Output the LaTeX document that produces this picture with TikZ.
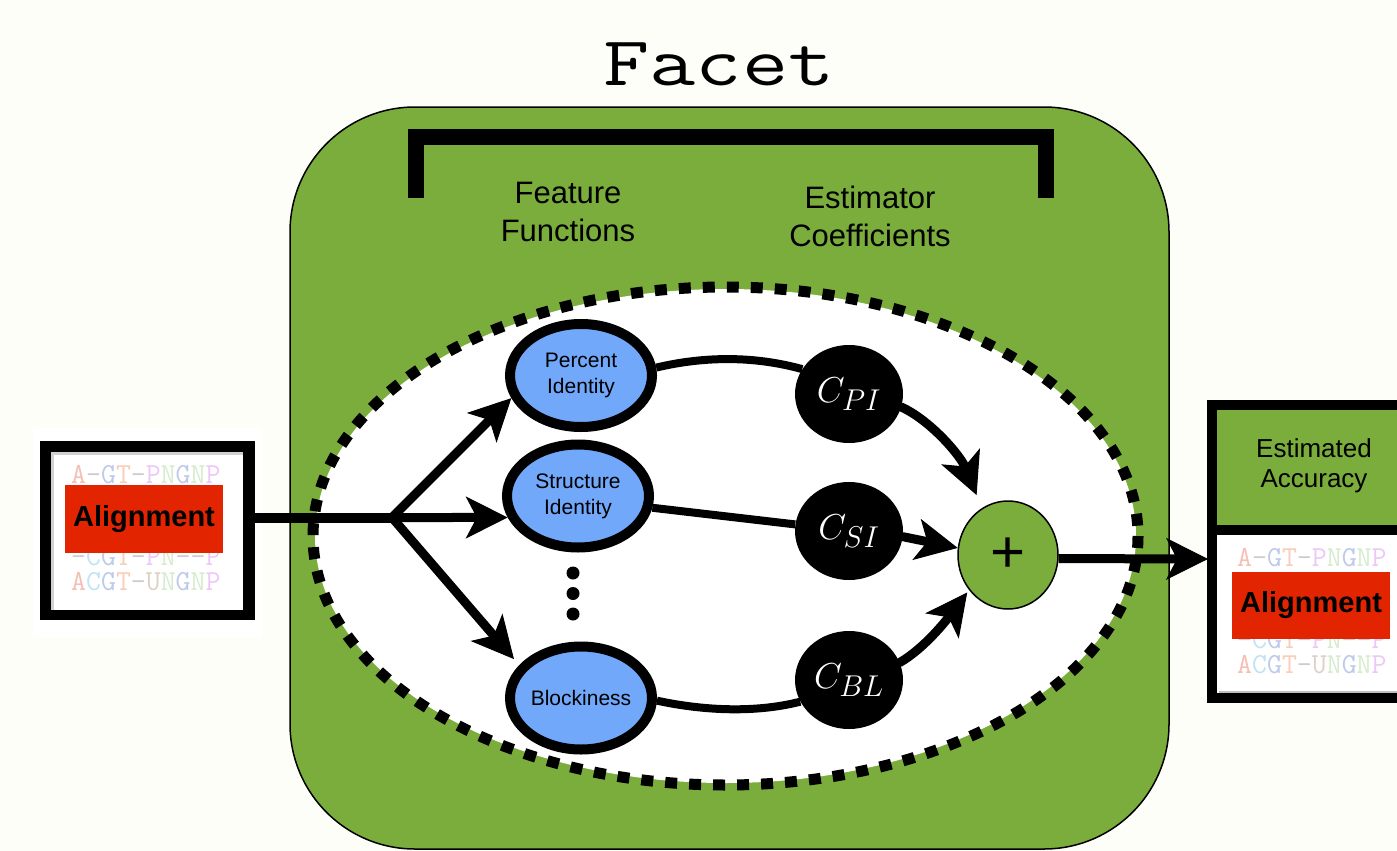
\documentclass[tikz,border=0pt]{standalone}
\usepackage{fontspec}
\newfontfamily\hv{Liberation Sans}
\usetikzlibrary{arrows.meta,shapes.geometric}
\definecolor{bgc}{RGB}{253,254,248}
\definecolor{fgreen}{RGB}{123,173,60}
\definecolor{fblue}{RGB}{114,168,250}
\definecolor{fred}{RGB}{226,37,0}
\definecolor{sA}{RGB}{246,190,180}
\definecolor{sD}{RGB}{205,205,205}
\definecolor{sG}{RGB}{190,202,235}
\definecolor{sT}{RGB}{250,205,185}
\definecolor{sP}{RGB}{236,200,248}
\definecolor{sN}{RGB}{214,236,204}
\definecolor{sC}{RGB}{190,228,245}
\definecolor{sU}{RGB}{222,208,196}
\newcommand{\seqlineA}{\textcolor{sA}{A}\textcolor{sD}{-}\textcolor{sG}{G}\textcolor{sT}{T}\textcolor{sD}{-}\textcolor{sP}{P}\textcolor{sN}{N}\textcolor{sG}{G}\textcolor{sN}{N}\textcolor{sP}{P}}
\newcommand{\seqlineB}{\textcolor{sD}{-}\textcolor{sC}{C}\textcolor{sG}{G}\textcolor{sT}{T}\textcolor{sD}{-}\textcolor{sP}{P}\textcolor{sN}{N}\textcolor{sD}{-}\textcolor{sD}{-}\textcolor{sP}{P}}
\newcommand{\seqlineC}{\textcolor{sA}{A}\textcolor{sC}{C}\textcolor{sG}{G}\textcolor{sT}{T}\textcolor{sD}{-}\textcolor{sU}{U}\textcolor{sN}{N}\textcolor{sG}{G}\textcolor{sN}{N}\textcolor{sP}{P}}
\newcommand{\coefsym}[1]{\scalebox{1.45}{$#1$}}
\begin{document}
\begin{tikzpicture}[x=1pt,y=-1pt,
  conn/.style={line width=8pt},
  arr/.style={line width=9pt,line cap=round,-{Stealth[length=42pt,width=42pt,inset=11pt,line width=1pt]}},
  feat/.style={ellipse, draw=black, line width=10pt, fill=fblue, minimum width=142pt, minimum height=103pt, inner sep=0pt, align=center, font=\hv\fontsize{21}{26}\selectfont},
  coef/.style={ellipse, fill=black, minimum width=108pt, minimum height=98pt, inner sep=0pt, text=white, font=\Huge},
  seqtxt/.style={anchor=base west, inner sep=0pt, font=\ttfamily\fontsize{29}{29}\selectfont},
  redbox/.style={fill=fred, inner sep=0pt, minimum width=158pt, minimum height=68pt, font=\hv\bfseries\fontsize{29}{32}\selectfont},
  lbl/.style={align=center, inner sep=0pt}
]
\useasboundingbox (0,0) rectangle (1397,851);
\clip (0,0) rectangle (1397,851);
\fill[bgc] (0,0) rectangle (1397,851);

% title
\node[font=\ttfamily\fontsize{70}{70}\selectfont, anchor=base, inner sep=0pt] (title) at (719,85) {\scalebox{1.28}[1]{Facet}};

% green box
\draw[fill=fgreen, line width=1.5pt, rounded corners=125pt] (290,107) rectangle (1169,849);

% bracket
\draw[line width=16pt] (416,198) -- (416,136.5) -- (1045.5,136.5) -- (1045.5,198);

\node[lbl, font=\hv\fontsize{31}{38}\selectfont] (ff) at (568,212) {Feature\\Functions};
\node[lbl, font=\hv\fontsize{31}{38}\selectfont] (ec) at (870,216) {Estimator\\Coefficients};

% dashed ellipse
\fill[white] (725.5,536) ellipse [x radius=410.5, y radius=247];
\draw[line width=11pt, dash pattern=on 12pt off 12pt] (725.5,536) ellipse [x radius=412.5, y radius=249];

% feature functions
\node[feat] (pi) at (581,375.5) {Percent\\Identity};
\node[feat] (si) at (578,496) {Structure\\Identity};
\node[feat] (bl) at (581,698) {Blockiness};
\fill (573,573) circle (6.5pt);
\fill (573,593.5) circle (6.5pt);
\fill (573,614) circle (6.5pt);

% coefficients
\node[coef] (cpi) at (849,394) {\coefsym{C_{PI}}};
\node[coef] (csi) at (849,531) {\coefsym{C_{SI}}};
\node[coef] (cbl) at (849,680) {\coefsym{C_{BL}}};

% sum
\node[ellipse, draw=black, line width=1.5pt, fill=fgreen, minimum width=100pt, minimum height=108pt, inner sep=0pt, font=\hv\fontsize{60}{60}\selectfont] (plus) at (1008,555) {\raisebox{-3.5pt}{+}};

% left alignment box
\fill[white] (33,428) rectangle (262,637);
\node[fill=black, minimum width=215pt, minimum height=179pt, inner sep=0pt] (lbox) at (147.5,530.5) {};
\fill[black!18] (51,452) rectangle (243,610);
\fill[white] (53.5,454.5) rectangle (243,610);
\node[seqtxt] (l1) at (71,483) {\seqlineA};
\node[seqtxt] (l4) at (71,565) {\seqlineB};
\node[seqtxt] (l5) at (71,590) {\seqlineC};
\node[redbox] (lal) at (144,519) {Alignment};

% right box
\node[fill=black, minimum width=210pt, minimum height=303pt, inner sep=0pt] (rbox) at (1312,551.5) {};
\fill[fgreen] (1217,410) rectangle (1400,525);
\fill[white] (1217,535) rectangle (1400,693);
\draw[black!25, line width=1.5pt] (1219,692) -- (1400,692);
\node[lbl, font=\hv\fontsize{26}{30}\selectfont] (ea) at (1314,466) {Estimated\\Accuracy};
\node[seqtxt] (r1) at (1237,566) {\seqlineA};
\node[seqtxt] (r4) at (1237,648) {\seqlineB};
\node[seqtxt] (r5) at (1237,673) {\seqlineC};
\node[redbox, minimum height=67pt] (ral) at (1311,605.5) {Alignment};

% connectors
\coordinate (split) at (392,517.5);
\draw[line width=10pt] (split -| lbox.east) -- (split);
\draw[arr] (split) -- (pi.198);
\draw[arr] (split) -- (si.197);
\draw[arr, shorten >=8pt] (split) -- (bl.152);

\draw[conn] (pi.6) .. controls (705,356) and (755,356) .. (cpi.152);
\draw[conn] (si.-9) -- (csi.173);
\draw[conn] (bl.-2) .. controls (710,712) and (760,712) .. (cbl.204);

\draw[arr, shorten >=14pt] (cpi.-14) .. controls (930,420) and (960,455) .. (plus.119);
\draw[arr] (csi.-6) -- (plus.172);
\draw[arr, shorten >=3pt] (cbl.19) .. controls (925,648) and (948,618) .. (plus.222);

\coordinate (rin) at (1208,559);
\draw[arr, line cap=butt] (plus.-4) -- (rin);
\end{tikzpicture}
\end{document}
